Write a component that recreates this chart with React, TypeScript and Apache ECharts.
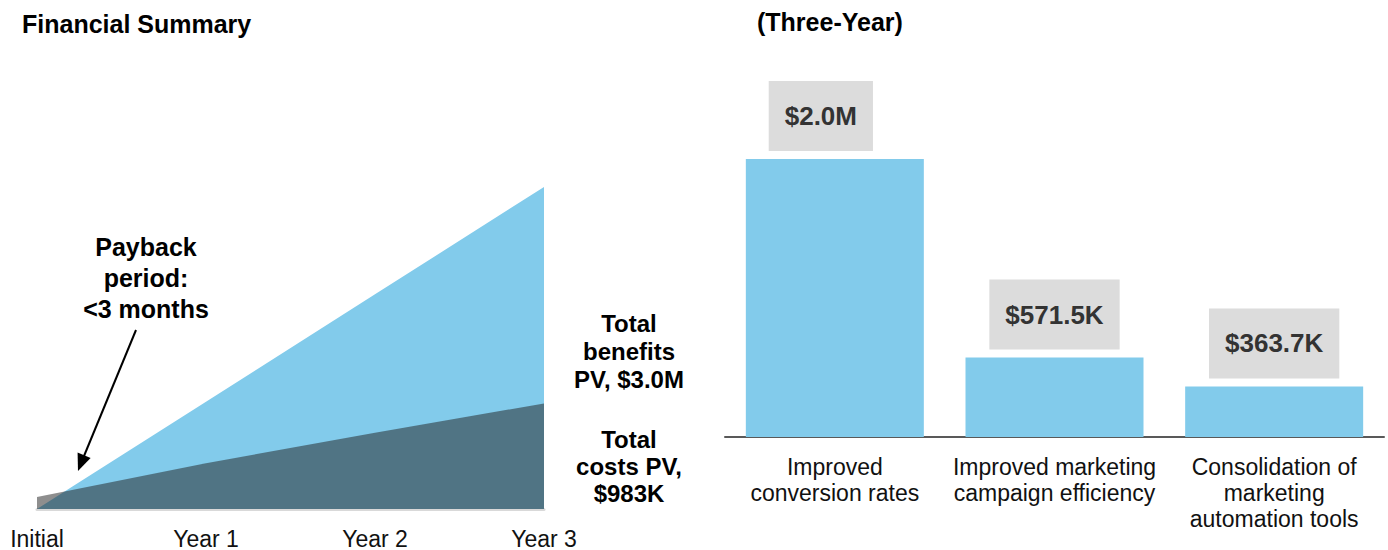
import React, { useEffect, useRef } from "react";
import * as echarts from "echarts";

// ---- data ($K, cumulative present value) ----
const timeCategories = ["Initial", "Year 1", "Year 2", "Year 3"];
const cumulativeBenefits = [0, 1000, 2000, 3000];
const cumulativeCosts = [112, 426, 711, 983];

const benefitCategories = [
  "Improved\nconversion rates",
  "Improved marketing\ncampaign efficiency",
  "Consolidation of\nmarketing\nautomation tools",
];
const benefitValues = [2000, 571.5, 363.7];
const benefitLabels = ["$2.0M", "$571.5K", "$363.7K"];

const FONT = "'Liberation Sans', Arial, Helvetica, sans-serif";
const BLUE = "#82cbeb";

export default function App() {
  const ref = useRef<HTMLDivElement>(null);

  useEffect(() => {
    if (!ref.current) return;
    const chart = echarts.init(ref.current, null, { renderer: "svg" });

    const barData = benefitValues.map((v, i) => ({
      value: v,
      label: i === 0 ? { offset: [-14, 0] } : {},
    }));

    chart.setOption({
      animation: false,
      textStyle: { fontFamily: FONT },
      grid: [
        { left: 37, right: 844, top: 187, bottom: 41 },
        { left: 725, right: 4, top: 159, bottom: 113 },
      ],
      xAxis: [
        {
          gridIndex: 0,
          type: "category",
          boundaryGap: false,
          data: timeCategories,
          axisLine: { lineStyle: { color: "#d9d9d9", width: 3 } },
          axisTick: { show: false },
          axisLabel: { fontSize: 23, color: "#111", margin: 18, lineHeight: 23, fontFamily: FONT },
        },
        {
          gridIndex: 1,
          type: "category",
          data: benefitCategories,
          axisLine: { lineStyle: { color: "#595959", width: 2 } },
          axisTick: { show: false },
          axisLabel: {
            fontSize: 23,
            lineHeight: 26,
            color: "#111",
            margin: 17,
            interval: 0,
            fontFamily: FONT,
          },
        },
      ],
      yAxis: [
        { gridIndex: 0, type: "value", min: 0, max: 3000, show: false, splitLine: { show: false } },
        { gridIndex: 1, type: "value", min: 0, max: 2000, show: false, splitLine: { show: false } },
      ],
      series: [
        {
          type: "line",
          xAxisIndex: 0,
          yAxisIndex: 0,
          data: cumulativeBenefits,
          symbol: "none",
          lineStyle: { width: 0 },
          areaStyle: { color: BLUE, opacity: 1 },
          silent: true,
        },
        {
          type: "line",
          xAxisIndex: 0,
          yAxisIndex: 0,
          data: cumulativeCosts,
          symbol: "none",
          lineStyle: { width: 0 },
          areaStyle: { color: "rgba(30,30,30,0.5)", opacity: 1 },
          silent: true,
        },
        {
          type: "bar",
          xAxisIndex: 1,
          yAxisIndex: 1,
          data: barData,
          barWidth: 178,
          itemStyle: { color: BLUE },
          label: {
            show: true,
            position: "top",
            distance: 8,
            formatter: (p: any) => benefitLabels[p.dataIndex],
            backgroundColor: "#dcdcdc",
            padding: [22, 16],
            fontSize: 26,
            lineHeight: 26,
            fontWeight: "bold",
            color: "#333",
            fontFamily: FONT,
          },
        },
      ],
      graphic: [
        {
          type: "text",
          x: 22,
          y: 24,
          style: {
            text: "Financial Summary",
            fontSize: 25,
            fontWeight: "bold",
            fontFamily: FONT,
            fill: "#000",
            align: "left",
            verticalAlign: "middle",
          },
        },
        {
          type: "text",
          x: 757,
          y: 22,
          style: {
            text: "(Three-Year)",
            fontSize: 25,
            fontWeight: "bold",
            fontFamily: FONT,
            fill: "#000",
            align: "left",
            verticalAlign: "middle",
          },
        },
        {
          type: "text",
          x: 146,
          y: 278,
          style: {
            text: "Payback\nperiod:\n<3 months",
            fontSize: 25,
            lineHeight: 31,
            fontWeight: "bold",
            fontFamily: FONT,
            fill: "#000",
            align: "center",
            verticalAlign: "middle",
          },
        },
        {
          type: "text",
          x: 629,
          y: 351,
          style: {
            text: "Total\nbenefits\nPV, $3.0M",
            fontSize: 24,
            lineHeight: 28,
            fontWeight: "bold",
            fontFamily: FONT,
            fill: "#000",
            align: "center",
            verticalAlign: "middle",
          },
        },
        {
          type: "text",
          x: 629,
          y: 466,
          style: {
            text: "Total\ncosts PV,\n$983K",
            fontSize: 24,
            lineHeight: 27,
            fontWeight: "bold",
            fontFamily: FONT,
            fill: "#000",
            align: "center",
            verticalAlign: "middle",
          },
        },
        {
          type: "line",
          shape: { x1: 136, y1: 330, x2: 84, y2: 456 },
          style: { stroke: "#000", lineWidth: 2 },
        },
        {
          type: "polygon",
          shape: { points: [[78, 471], [90.6, 457.9], [77.6, 452.5]] },
          style: { fill: "#000" },
        },
      ],
    });

    return () => chart.dispose();
  }, []);

  return (
    <div
      ref={ref}
      style={{ position: "fixed", left: 0, top: 0, width: 1388, height: 550, background: "#fff" }}
    />
  );
}
